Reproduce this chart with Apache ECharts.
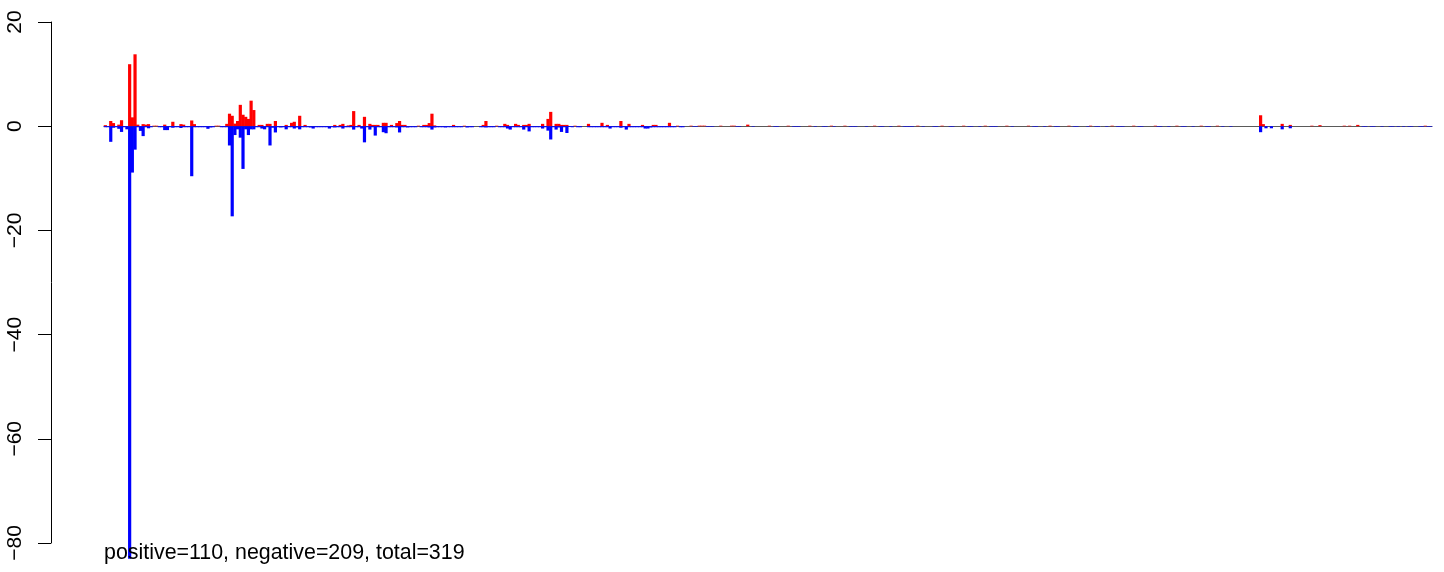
<!DOCTYPE html>
<html><head><meta charset="utf-8">
<script src="https://cdn.jsdelivr.net/npm/echarts@6/dist/echarts.min.js"></script>
<style>html,body{margin:0;padding:0;background:#fff}#c{width:1444px;height:572px}</style>
</head><body><div id="c"></div>
<script>
const positive = [
0.2,0,1.0,0.6,0,0.3,1.15,0,0,11.9, 1.7,13.8,0.3,0,0.4,0.3,0.4,0,0.1,0.1,
0,0,0.3,0,0,0.85,0,0,0.4,0.3, 0,0,1.1,0.4,0,0,0,0,0,0,
0,0.1,0.1,0,0,0.45,2.4,2.0,0.5,1.0, 4.1,2.2,1.8,1.4,4.9,3.1,0,0.25,0.25,0,
0.45,0.45,0,1.0,0,0,0,0.25,0,0.65, 0.85,0,2.0,0,0.25,0,0,0,0,0,
0,0,0,0,0,0.25,0,0.25,0.45,0, 0.15,0.25,2.9,0,0.25,0,1.8,0,0.45,0.25,
0.25,0.25,0,0.65,0.65,0,0.25,0,0.6,1.0, 0.25,0.25,0,0,0,0,0.1,0,0.25,0.25,
0.6,2.4,0.15,0,0,0,0,0,0,0.25, 0,0,0,0.1,0,0,0,0,0,0,
0.25,1.0,0,0,0,0.1,0,0,0.45,0.25, 0,0,0.45,0.25,0,0.25,0.25,0.45,0,0,
0,0,0.45,0,1.4,2.75,0,0.45,0.45,0.25, 0.25,0.25,0,0,0.1,0,0,0,0,0.45,
0,0,0,0,0.65,0,0.25,0,0,0, 0,1.0,0,0,0.45,0,0,0,0,0.25,
0,0,0,0.25,0.25,0,0,0,0,0.65, 0,0,0.1,0,0,0,0,0.1,0,0,
0.1,0.1,0.1,0,0,0,0,0,0.1,0, 0,0,0.1,0.1,0,0,0,0,0.3,0,
0,0,0,0,0,0,0.1,0,0,0, 0,0,0,0.1,0,0,0,0,0,0,
0,0.1,0,0,0,0,0,0,0,0.1, 0,0,0,0,0.1,0,0,0,0,0,
0,0,0,0,0,0.1,0,0,0,0, 0,0,0,0,0.1,0,0,0,0,0,
0,0.1,0,0,0,0,0,0,0,0, 0.1,0,0,0,0,0,0,0,0.1,0,
0,0,0,0,0,0,0.1,0,0,0, 0,0,0,0,0.1,0,0,0,0,0,
0,0,0.1,0,0,0,0,0,0,0, 0.1,0,0,0,0,0,0,0.1,0,0,
0,0,0,0,0,0.1,0,0,0,0, 0,0,0,0.1,0,0,0,0,0,0,
0,0.1,0,0,0,0,0,0,0,0.1, 0,0,0,0,0,0,0,0.1,0,0,
0,0,0,0,0,0,0.1,0,0,0, 0,0,0.1,0,0,0,0,0,0,0,
0,0,0,0,0,0,0,0,2.1,0.4, 0,0,0,0,0,0,0.45,0,0,0.25,
0,0,0,0,0,0,0,0.1,0,0, 0.2,0,0,0,0,0,0,0,0,0.1,
0,0.1,0,0,0.25,0,0,0,0,0, 0,0,0,0,0,0,0,0,0,0,
0,0,0,0,0,0,0,0,0,0.1, 0,0
];
const negative = [
-0.2,-0.2,-3.0,-0.3,-0.2,-0.5,-1.1,-0.2,-0.6,-83, -8.9,-4.5,-0.2,-0.9,-1.9,-0.2,-0.4,-0.2,0,0,
-0.2,-0.2,-0.75,-0.75,-0.2,-0.3,-0.2,-0.2,-0.35,-0.2, -0.2,-0.2,-9.6,-0.2,-0.2,-0.2,-0.2,-0.2,-0.5,-0.25,
-0.2,0,0,-0.2,-0.2,-0.2,-3.7,-17.3,-1.7,-0.6, -2.2,-8.2,-0.6,-1.7,-0.6,-0.6,-0.2,-0.2,-0.45,-0.6,
-0.2,-3.7,-0.3,-1.2,-0.2,-0.25,-0.2,-0.6,-0.2,-0.2, -0.45,-0.25,-0.6,-0.2,-0.2,-0.2,-0.25,-0.45,-0.2,-0.2,
-0.2,-0.2,-0.2,-0.45,-0.2,-0.25,-0.2,-0.2,-0.45,-0.2, -0.2,-0.2,-0.65,-0.2,-0.2,-0.45,-3.1,-0.2,-0.65,-0.2,
-1.8,-0.2,-0.2,-1.15,-1.35,-0.2,-0.2,-0.2,-0.25,-1.2, -0.2,-0.2,-0.25,-0.2,-0.2,-0.2,0,-0.2,-0.2,-0.2,
-0.25,-0.65,-0.25,-0.2,-0.2,-0.2,-0.25,-0.2,-0.2,-0.2, -0.2,-0.2,-0.2,0,-0.25,-0.2,-0.2,0,0,-0.2,
-0.2,-0.25,-0.2,-0.2,-0.2,0,-0.2,-0.2,-0.2,-0.45, -0.65,-0.2,-0.2,-0.2,-0.2,-0.65,-0.2,-1.0,-0.2,-0.2,
-0.2,-0.2,-0.45,-0.2,-0.85,-2.55,-0.2,-0.65,-0.25,-1.1, -0.2,-1.3,-0.15,-0.2,0,-0.2,-0.2,0,0,-0.2,
-0.2,-0.2,-0.2,-0.2,-0.2,-0.2,-0.2,-0.45,-0.2,-0.2, -0.2,-0.3,-0.2,-0.65,-0.2,-0.2,-0.2,-0.2,-0.2,-0.2,
-0.45,-0.45,-0.25,-0.2,-0.2,-0.2,-0.2,-0.2,-0.2,-0.2, -0.2,-0.2,0,-0.2,-0.2,0,0,0,-0.1,-0.1,
0,0,0,-0.1,-0.1,-0.1,0,0,0,0, 0,0,0,0,-0.1,-0.1,0,0,0,0,
-0.1,0,0,0,0,0,0,0,-0.1,-0.1, 0,0,0,0,0,-0.1,-0.1,-0.1,0,0,
0,0,0,-0.1,0,0,-0.1,-0.1,0,0, -0.1,0,0,0,0,0,-0.1,-0.1,-0.1,0,
0,0,-0.1,0,0,0,0,-0.1,-0.1,0, 0,-0.1,0,0,0,0,-0.1,-0.1,-0.1,-0.1,
0,0,0,-0.1,0,0,0,-0.1,-0.1,0, 0,0,0,-0.1,-0.1,0,0,0,0,0,
-0.1,-0.1,0,0,-0.1,0,0,0,-0.1,-0.1, -0.1,0,0,0,0,0,-0.1,0,0,0,
0,0,0,0,-0.1,-0.1,0,0,-0.1,0, 0,0,-0.1,-0.1,0,0,0,0,0,-0.1,
-0.1,0,0,0,-0.1,0,0,-0.1,-0.1,0, 0,-0.1,0,0,0,-0.1,-0.1,-0.1,0,0,
0,0,0,-0.1,-0.1,0,0,0,0,0, -0.1,-0.1,0,0,-0.1,0,0,0,0,-0.1,
-0.1,0,0,-0.1,0,0,0,0,-0.1,-0.1, 0,0,0,0,-0.1,0,0,-0.1,0,0,
0,0,0,0,0,0,0,0,-1.15,0, -0.4,0,-0.4,0,0,0,-0.6,0,0,-0.4,
0,0,0,0,0,0,0,0,0,0, 0,0,0,0,0,0,0,0,0,0,
0,0,0,0,0,0,-0.1,-0.1,0,-0.1, -0.1,0,0,-0.1,0,0,-0.1,-0.1,0,-0.1,
0,-0.1,0,-0.1,-0.1,0,0,-0.1,-0.1,0, -0.1,-0.1
];
const yTicks = [-80, -60, -40, -20, 0, 20];
const note = 'positive=110, negative=209, total=319';
const categories = positive.map((_, i) => String(i + 1));

const FONT = '"Liberation Sans", Arial, Helvetica, sans-serif';
const chart = echarts.init(document.getElementById('c'), null, {renderer: 'canvas'});
chart.setOption({
  animation: false,
  backgroundColor: '#ffffff',
  grid: {left: 104, top: 22, width: 1328, height: 521, containLabel: false},
  xAxis: {
    type: 'category', data: categories, boundaryGap: true,
    axisLine: {show: true, onZero: true, lineStyle: {color: '#5a5a5a', width: 1}},
    axisTick: {show: false}, axisLabel: {show: false}, splitLine: {show: false}
  },
  yAxis: {
    type: 'value', min: yTicks[0], max: yTicks[yTicks.length - 1], interval: 20,
    offset: 53,
    axisLine: {show: true, onZero: false, lineStyle: {color: '#000', width: 1}},
    axisTick: {show: true, length: 13, lineStyle: {color: '#000', width: 1}},
    splitLine: {show: false},
    axisLabel: {
      rotate: 90, margin: 25, fontSize: 21, fontFamily: FONT, color: '#000',
      formatter: v => String(v).replace('-', '\u2212')
    }
  },
  series: [
    {type: 'bar', name: 'positive', data: positive, barWidth: 3.2, barGap: '-100%',
     itemStyle: {color: '#ff0000'}, clip: false, z: 3},
    {type: 'bar', name: 'negative', data: negative, barWidth: 3.2, barGap: '-100%',
     itemStyle: {color: '#0000ff'}, clip: false, z: 3}
  ],
  graphic: [{
    type: 'text', left: 104, top: 543, z: 100,
    style: {text: note, fontSize: 21.4, fontFamily: FONT, fill: '#000'}
  }]
});
</script>
</body></html>
